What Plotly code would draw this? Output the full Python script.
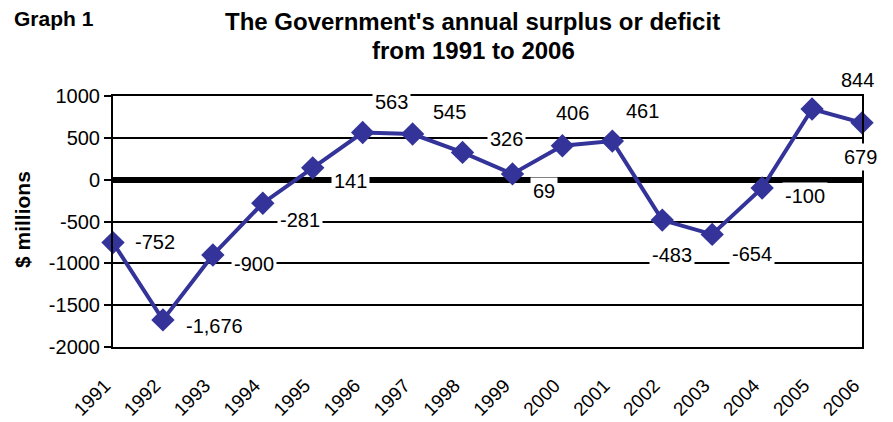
import plotly.graph_objects as go

years = list(range(1991, 2007))
values = [-752, -1676, -900, -281, 141, 563, 545, 326, 69, 406, 461, -483, -654, -100, 844, 679]
labels = ["-752", "-1,676", "-900", "-281", "141", "563", "545", "326", "69", "406", "461", "-483", "-654", "-100", "844", "679"]
ytickvals = [-2000, -1500, -1000, -500, 0, 500, 1000]
yticktext = ["-2000", "-1500", "-1000", "-500", "0", "500", "1000"]
# label offsets in pixels (dx, dy) relative to points
offsets = [(42, 1), (52, -6), (41, -9), (37, -17), (38, -13), (29, 31), (37, 22), (44, 13), (32, -17), (10, 33), (30, 30), (10, -35), (40, -20), (43, -8), (45, 29), (-2, -34)]

blue = "#333399"
FONT = "Liberation Sans, Arial, sans-serif"

L, R, T, B = 113, 31, 96, 75
W, H = 893, 422
pw, ph = W - L - R, H - T - B

def px(x):
    return (x - L) / pw

def py(y):
    return (H - B - y) / ph

fig = go.Figure()
fig.add_trace(go.Scatter(
    x=years, y=values, mode="lines+markers",
    line=dict(color=blue, width=4),
    marker=dict(symbol="diamond", size=18, color=blue),
    cliponaxis=False, showlegend=False, hoverinfo="skip"))

for yr, v, lab, (dx, dy) in zip(years, values, labels, offsets):
    fig.add_annotation(x=yr, y=v, xref="x", yref="y", text=lab, showarrow=False,
                       xshift=dx, yshift=dy, bgcolor="white",
                       font=dict(family=FONT, size=20, color="black"), borderpad=2)

fig.add_annotation(x=px(12), y=py(18), xref="paper", yref="paper", text="<b>Graph 1</b>",
                   showarrow=False, xanchor="left", yanchor="middle",
                   font=dict(family=FONT, size=21, color="black"))
fig.add_annotation(x=px(472), y=py(21), xref="paper", yref="paper",
                   text="<b>The Government's annual surplus or deficit</b>",
                   showarrow=False, xanchor="center", yanchor="middle",
                   font=dict(family=FONT, size=24, color="black"))
fig.add_annotation(x=px(473), y=py(51), xref="paper", yref="paper",
                   text="<b>from 1991 to 2006</b>",
                   showarrow=False, xanchor="center", yanchor="middle",
                   font=dict(family=FONT, size=24, color="black"))
fig.add_annotation(x=px(22), y=py(220), xref="paper", yref="paper",
                   text="<b>$ millions</b>", textangle=-90,
                   showarrow=False, xanchor="center", yanchor="middle",
                   font=dict(family=FONT, size=21, color="black"))

fig.update_layout(
    width=W, height=H,
    margin=dict(l=L, r=R, t=T, b=B),
    paper_bgcolor="white", plot_bgcolor="white",
    xaxis=dict(range=[1991, 2006], tickmode="array", tickvals=years, ticktext=[str(y) for y in years],
               tickangle=-45, showgrid=False, zeroline=False, showline=True, linecolor="black",
               linewidth=2, mirror=True, ticks="", ticklabelstandoff=18, ticklabelshift=-8,
               automargin=False,
               tickfont=dict(family=FONT, size=19, color="black")),
    yaxis=dict(range=[-2000, 1000], tickmode="array", tickvals=ytickvals, ticktext=yticktext,
               showgrid=True, gridcolor="black", gridwidth=2, zeroline=True, zerolinecolor="black",
               zerolinewidth=6, showline=True, linecolor="black", linewidth=2, mirror=True,
               ticks="outside", ticklen=7, tickcolor="black", tickwidth=2, automargin=False,
               tickfont=dict(family=FONT, size=20, color="black")),
)

fig.write_html("out.html")
